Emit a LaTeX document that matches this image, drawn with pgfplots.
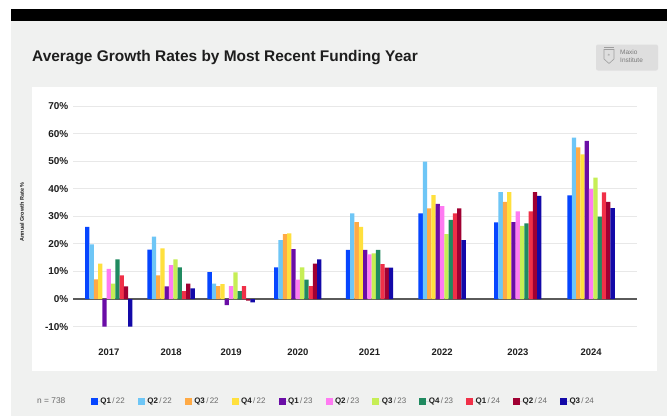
\documentclass[border=0pt]{standalone}
\usepackage{pgfplots}
\pgfplotsset{compat=1.18}
\usepackage{fontspec}
\setmainfont{Liberation Sans}
\definecolor{bgg}{HTML}{F0F1F0}
\definecolor{gridg}{HTML}{E8E8E8}
\definecolor{zerog}{HTML}{5A5A5A}
\definecolor{txt}{HTML}{1E1E1E}
\definecolor{legg}{HTML}{6A6A6A}
\definecolor{ca}{HTML}{0646FF}
\definecolor{cb}{HTML}{6EC6F6}
\definecolor{cc}{HTML}{FFAA45}
\definecolor{cd}{HTML}{FFE03D}
\definecolor{ce}{HTML}{6A0DA6}
\definecolor{cf}{HTML}{FF7BF2}
\definecolor{cg}{HTML}{C6EE55}
\definecolor{ch}{HTML}{208A60}
\definecolor{ci}{HTML}{F03048}
\definecolor{cj}{HTML}{A00032}
\definecolor{ck}{HTML}{1309A8}
\newcommand{\legtxt}[2]{\makebox[37.4bp][l]{\textcolor{txt}{\bfseries #1}\textcolor{legg}{\,/\,#2}}}
\begin{document}
\begin{tikzpicture}[x=1bp,y=1bp]
\useasboundingbox (0,0) rectangle (667,416);
\fill[white] (0,0) rectangle (667,416);
\fill[bgg] (11,0) rectangle (667,395);
\fill[black] (11,395) rectangle (667,407);
\fill[white] (32,45) rectangle (657,329);
\node[anchor=base west, inner sep=0pt, text=txt, font=\fontsize{15.5}{18}\selectfont\bfseries] at (32,354.3) {Average Growth Rates by Most Recent Funding Year};
% logo
\fill[black!6, rounded corners=2bp] (596.5,345) rectangle (658.5,371);
\fill[black!13, rounded corners=2bp] (596,345.5) rectangle (658,371.5);
\draw[black!38, line width=0.6bp] (604,366.5) -- (614,366.5) -- (614,357) -- (609,352.5) -- (604,357) -- cycle;
\draw[black!38, line width=0.6bp] (604,368.3) -- (614,368.3);
\node[text=black!45, font=\fontsize{4}{4}\selectfont] at (609,360.5) {$\ast$};
\node[anchor=west, inner sep=0pt, text=black!52, font=\fontsize{6.5}{6.5}\selectfont] at (620,363.5) {Maxio};
\node[anchor=west, inner sep=0pt, text=black!52, font=\fontsize{6.5}{6.5}\selectfont] at (620,356) {Institute};
% y label
\node[rotate=90, inner sep=0pt, text=txt, font=\fontsize{5.5}{6}\selectfont\bfseries] at (22,204) {Annual Growth Rate \%};
\node[anchor=west, inner sep=0pt, text=legg, font=\fontsize{8.4}{9}\selectfont] at (37,15) {n = 738};
\begin{axis}[
  at={(73bp,83.9bp)}, anchor=south west,
  scale only axis, width=564bp, height=231.6bp,
  xmin=73, xmax=637, ymin=-12, ymax=72,
  axis line style={draw=none},
  major tick length=0pt,
  ybar=0pt, bar width=4.3,
  ytick={-10,0,10,20,30,40,50,60,70},
  yticklabels={-10\%,0\%,10\%,20\%,30\%,40\%,50\%,60\%,70\%},
  xtick={108.8,171.1,231.1,297.8,369.5,442.1,517.8,591.1},
  xticklabels={2017,2018,2019,2020,2021,2022,2023,2024},
  ymajorgrids, grid style={color=gridg, line width=0.8bp},
  extra y ticks={0}, extra y tick labels={},
  extra y tick style={ymajorgrids=true, grid style={color=zerog, line width=1.1bp}},
  yticklabel style={inner sep=0pt, anchor=east, xshift=-4.5bp, text=txt, font=\fontsize{10}{12}\selectfont\bfseries},
  xticklabel style={inner sep=0pt, anchor=north, yshift=-17bp, text=txt, font=\fontsize{9.5}{12}\selectfont\bfseries},
  legend image code/.code={\fill[#1] (0bp,-3.5bp) rectangle (7bp,3.5bp); \path (0bp,0bp) -- (9.5bp,0bp);},
  legend columns=11,
  legend style={at={(axis description cs:0.0319,-0.2975)}, anchor=west, draw=none, fill=none, inner sep=0pt, outer sep=0pt,
    font=\fontsize{8}{9}\selectfont, nodes={inner sep=0pt},
    /tikz/every even column/.append style={column sep=0pt}},
]
\addplot[fill=ca, draw=none] coordinates {(108.8,26.2) (171.1,17.9) (231.1,9.8) (297.8,11.5) (369.5,17.8) (442.1,31.1) (517.8,27.8) (591.1,37.6)};
\addplot[fill=cb, draw=none] coordinates {(108.8,19.8) (171.1,22.6) (231.1,5.6) (297.8,21.4) (369.5,31.1) (442.1,49.8) (517.8,38.8) (591.1,58.5)};
\addplot[fill=cc, draw=none] coordinates {(108.8,7.1) (171.1,8.6) (231.1,4.7) (297.8,23.5) (369.5,27.9) (442.1,32.9) (517.8,35.2) (591.1,55.0)};
\addplot[fill=cd, draw=none] coordinates {(108.8,12.8) (171.1,18.4) (231.1,5.4) (297.8,23.8) (369.5,26.2) (442.1,37.7) (517.8,38.8) (591.1,52.5)};
\addplot[fill=ce, draw=none] coordinates {(108.8,-10.0) (171.1,4.6) (231.1,-2.2) (297.8,18.1) (369.5,17.8) (442.1,34.5) (517.8,27.9) (591.1,57.4)};
\addplot[fill=cf, draw=none] coordinates {(108.8,10.9) (171.1,12.3) (231.1,4.7) (297.8,7.0) (369.5,16.2) (442.1,33.7) (517.8,31.8) (591.1,39.9)};
\addplot[fill=cg, draw=none] coordinates {(108.8,5.6) (171.1,14.4) (231.1,9.7) (297.8,11.5) (369.5,16.6) (442.1,23.5) (517.8,26.5) (591.1,44.0)};
\addplot[fill=ch, draw=none] coordinates {(108.8,14.4) (171.1,11.5) (231.1,2.9) (297.8,7.0) (369.5,17.8) (442.1,28.7) (517.8,27.4) (591.1,29.9)};
\addplot[fill=ci, draw=none] coordinates {(108.8,8.6) (171.1,2.9) (231.1,4.7) (297.8,4.7) (369.5,12.7) (442.1,31.1) (517.8,31.8) (591.1,38.7)};
\addplot[fill=cj, draw=none] coordinates {(108.8,4.6) (171.1,5.6) (231.1,-0.6) (297.8,12.8) (369.5,11.4) (442.1,32.9) (517.8,38.8) (591.1,35.2)};
\addplot[fill=ck, draw=none] coordinates {(108.8,-10.0) (171.1,3.9) (231.1,-1.2) (297.8,14.4) (369.5,11.4) (442.1,21.4) (517.8,37.4) (591.1,33.0)};
\legend{\legtxt{Q1}{22},\legtxt{Q2}{22},\legtxt{Q3}{22},\legtxt{Q4}{22},\legtxt{Q1}{23},\legtxt{Q2}{23},\legtxt{Q3}{23},\legtxt{Q4}{23},\legtxt{Q1}{24},\legtxt{Q2}{24},\legtxt{Q3}{24}}
\end{axis}
\end{tikzpicture}
\end{document}
